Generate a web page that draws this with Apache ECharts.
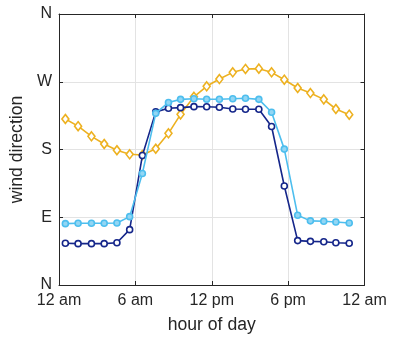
<!DOCTYPE html>
<html>
<head>
<meta charset="utf-8">
<script src="https://cdn.jsdelivr.net/npm/echarts@6/dist/echarts.min.js"></script>
<style>
html,body{margin:0;padding:0;background:#fff;}
#chart{width:393px;height:346px;}
</style>
</head>
<body>
<div id="chart"></div>
<script>
// hour of day (x position of each sample)
var hours = [0.5, 1.5, 2.55, 3.55, 4.55, 5.55, 6.55, 7.6, 8.6, 9.55, 10.6, 11.6, 12.6, 13.65, 14.65, 15.7, 16.7, 17.7, 18.75, 19.75, 20.8, 21.75, 22.8];
// wind direction in degrees (N=0, E=90, S=180, W=270, N=360)
var yellowSeries = [220.5, 211, 197.5, 187.3, 179, 173.6, 172.6, 181, 201.5, 226.7, 250, 264, 273.6, 282.5, 287, 287.4, 282.5, 272.7, 261.7, 255, 246.6, 233.8, 226.2];
var lightBlueSeries = [81.5, 82, 82, 82, 82.4, 90.8, 148.2, 228, 242.5, 246.6, 247.5, 246.8, 246.8, 247.5, 248, 246.6, 229.5, 180.5, 92.6, 85.2, 84.6, 83.7, 82.4];
var navySeries = [55.4, 54.9, 54.9, 54.9, 56.2, 73.5, 172, 230, 234.7, 235.6, 236.9, 236.7, 236.2, 233.8, 233.4, 233.4, 210.5, 131.5, 59, 58, 57.5, 56.2, 55.4];
var xTickLabels = {0: '12 am', 6: '6 am', 12: '12 pm', 18: '6 pm', 24: '12 am'};
var yTickLabels = {0: 'N', 90: 'E', 180: 'S', 270: 'W', 360: 'N'};

function pairs(vals) { return hours.map(function (h, i) { return [h, vals[i]]; }); }

var font = '"Liberation Sans", Arial, Helvetica, sans-serif';
var axisCol = '#262626';
var chart = echarts.init(document.getElementById('chart'), null, {renderer: 'canvas'});
chart.setOption({
  animation: false,
  backgroundColor: '#fff',
  grid: {left: 52.5, right: 28.5, top: 14, bottom: 61},
  xAxis: [{
    type: 'value', min: 0, max: 24, interval: 6, position: 'bottom',
    name: 'hour of day', nameLocation: 'middle', nameGap: 31,
    nameTextStyle: {fontFamily: font, fontSize: 17.6, color: axisCol},
    axisLine: {show: true, onZero: false, lineStyle: {color: axisCol, width: 1}},
    axisTick: {show: true, inside: true, length: 4, lineStyle: {color: axisCol}},
    axisLabel: {fontFamily: font, fontSize: 16, color: axisCol, margin: 8,
      formatter: function (v) { return xTickLabels[v] || ''; }},
    splitLine: {show: true, lineStyle: {color: '#e3e3e3', width: 1}}
  }, {
    type: 'value', min: 0, max: 24, interval: 6, position: 'top',
    axisLine: {show: true, onZero: false, lineStyle: {color: axisCol, width: 1}},
    axisTick: {show: true, inside: true, length: 4, lineStyle: {color: axisCol}},
    axisLabel: {show: false}, splitLine: {show: false}
  }],
  yAxis: [{
    type: 'value', min: 0, max: 360, interval: 90, position: 'left',
    name: 'wind direction', nameLocation: 'middle', nameGap: 21, nameRotate: 90,
    nameTextStyle: {fontFamily: font, fontSize: 17.6, color: axisCol},
    axisLine: {show: true, onZero: false, lineStyle: {color: axisCol, width: 1}},
    axisTick: {show: true, inside: true, length: 4, lineStyle: {color: axisCol}},
    axisLabel: {fontFamily: font, fontSize: 16, color: axisCol, margin: 7,
      formatter: function (v) { return yTickLabels[v] || ''; }},
    splitLine: {show: true, lineStyle: {color: '#e3e3e3', width: 1}}
  }, {
    type: 'value', min: 0, max: 360, interval: 90, position: 'right',
    axisLine: {show: true, onZero: false, lineStyle: {color: axisCol, width: 1}},
    axisTick: {show: true, inside: true, length: 4, lineStyle: {color: axisCol}},
    axisLabel: {show: false}, splitLine: {show: false}
  }],
  series: [{
    type: 'line', data: pairs(yellowSeries), xAxisIndex: 0, yAxisIndex: 0,
    symbol: 'diamond', symbolSize: [7, 9], showAllSymbol: true,
    lineStyle: {color: '#EDB120', width: 1.6},
    itemStyle: {color: '#fff', borderColor: '#EDB120', borderWidth: 1.6},
    z: 2
  }, {
    type: 'line', data: pairs(navySeries), xAxisIndex: 0, yAxisIndex: 0,
    symbol: 'circle', symbolSize: 6, showAllSymbol: true,
    lineStyle: {color: '#15268a', width: 1.6},
    itemStyle: {color: '#fff', borderColor: '#15268a', borderWidth: 1.6},
    z: 3
  }, {
    type: 'line', data: pairs(lightBlueSeries), xAxisIndex: 0, yAxisIndex: 0,
    symbol: 'circle', symbolSize: 6, showAllSymbol: true,
    lineStyle: {color: '#4DBEEE', width: 1.6},
    itemStyle: {color: '#92d6f4', borderColor: '#4DBEEE', borderWidth: 1.6},
    z: 4
  }]
});
</script>
</body>
</html>
